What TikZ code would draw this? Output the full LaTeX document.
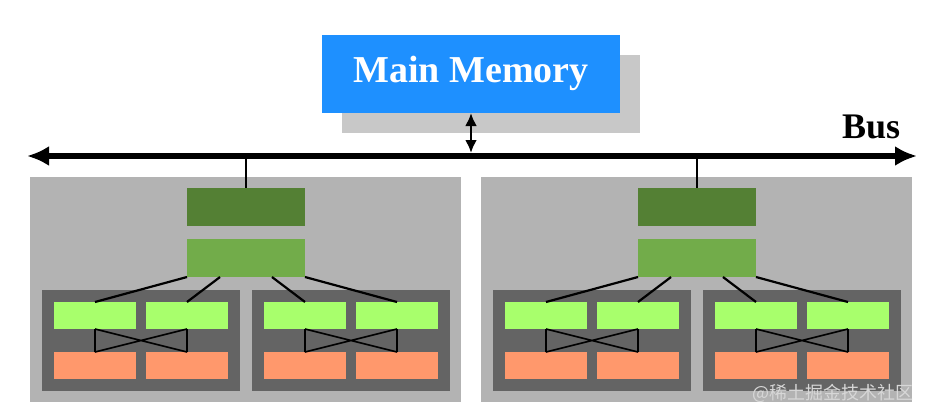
\documentclass[tikz,border=0pt]{standalone}
\usepackage{fontspec}
\setmainfont{Liberation Serif}
\newfontfamily\cjkfont{Noto Sans CJK SC}
\usetikzlibrary{arrows.meta,calc}
\definecolor{memblue}{RGB}{30,144,255}
\definecolor{shadowgray}{RGB}{200,200,200}
\definecolor{panelgray}{RGB}{179,179,179}
\definecolor{innergray}{RGB}{100,100,100}
\definecolor{darkgreen}{RGB}{84,128,52}
\definecolor{midgreen}{RGB}{114,172,74}
\definecolor{lightgreen}{RGB}{168,255,108}
\definecolor{orangebox}{RGB}{255,152,108}
\definecolor{wmgray}{RGB}{215,215,215}
\tikzset{
  blk/.style={anchor=north west, inner sep=0pt, outer sep=0pt, draw=none},
  thinline/.style={line width=1.6pt, black},
  link/.style={line width=2.2pt, black},
}
\begin{document}
\begin{tikzpicture}[x=1pt,y=-1pt]
\useasboundingbox (0,0) rectangle (930,418);
% main memory with shadow
\node[blk, fill=shadowgray, minimum width=298pt, minimum height=78pt] (memsh) at (342,55) {};
\node[blk, fill=memblue, minimum width=298pt, minimum height=78pt] (mem) at (322,35) {};
\node[text=white, font=\bfseries\fontsize{38}{40}\selectfont, anchor=base] (memtxt) at (471,82) {Main Memory};
% bus
\coordinate (busL) at (27,156);
\coordinate (busR) at (917,156);
\draw[line width=6pt, {Latex[length=22pt,width=20pt]}-{Latex[length=22pt,width=20pt]}] (busL) -- (busR);
\node[font=\bfseries\fontsize{36}{38}\selectfont, anchor=base west, inner sep=0pt] (bus) at (842,138) {Bus};
\coordinate (membus) at (471,153);
\coordinate (memtop) at (471,113);
\draw[line width=2.6pt, {Latex[length=13pt,width=12pt]}-{Latex[length=13pt,width=12pt]}] (memtop) -- (membus);
% panels
\foreach \o/\s in {0/L,451/R}{
  \node[blk, fill=panelgray, minimum width=431pt, minimum height=225pt] (panel\s) at (30+\o,177) {};
  \node[blk, fill=darkgreen, minimum width=118pt, minimum height=38pt] (dg\s) at (187+\o,188) {};
  \node[blk, fill=midgreen, minimum width=118pt, minimum height=38pt] (lg\s) at (187+\o,239) {};
  \node[blk, fill=innergray, minimum width=198pt, minimum height=101pt] (inA\s) at (42+\o,290) {};
  \node[blk, fill=innergray, minimum width=198pt, minimum height=101pt] (inB\s) at (252+\o,290) {};
  \foreach \x/\k in {54/1,146/2,264/3,356/4}{
    \node[blk, fill=lightgreen, minimum width=82pt, minimum height=27pt] (sg\s\k) at (\x+\o,302) {};
    \node[blk, fill=orangebox, minimum width=82pt, minimum height=27pt] (or\s\k) at (\x+\o,352) {};
  }
  \draw[thinline] (dg\s.north |- busL) -- (dg\s.north);
  \draw[link] (lg\s.south west) -- (sg\s1.north);
  \draw[link] ($(lg\s.south west)!0.28!(lg\s.south east)$) -- (sg\s2.north);
  \draw[link] ($(lg\s.south west)!0.72!(lg\s.south east)$) -- (sg\s3.north);
  \draw[link] (lg\s.south east) -- (sg\s4.north);
  \draw[thinline] (sg\s1.south) -- (or\s1.north) (sg\s2.south) -- (or\s2.north)
                  (sg\s1.south) -- (or\s2.north) (sg\s2.south) -- (or\s1.north);
  \draw[thinline] (sg\s3.south) -- (or\s3.north) (sg\s4.south) -- (or\s4.north)
                  (sg\s3.south) -- (or\s4.north) (sg\s4.south) -- (or\s3.north);
}
% watermark
\node[anchor=south east, inner sep=0pt, text=wmgray, font=\cjkfont\fontsize{18}{19}\selectfont] (wm) at (914,403) {@稀土掘金技术社区};
\end{tikzpicture}
\end{document}
